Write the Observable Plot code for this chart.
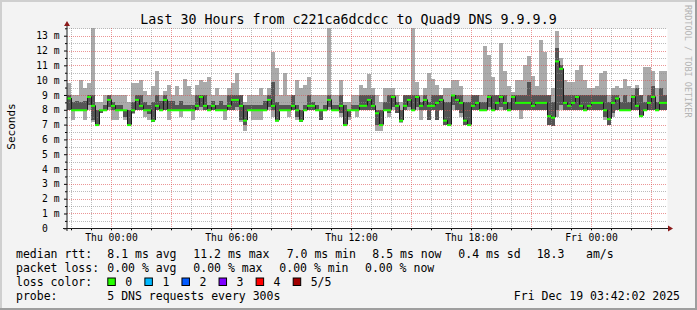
<!DOCTYPE html>
<html><head><meta charset="utf-8">
<script src="https://cdn.jsdelivr.net/npm/d3@7"></script>
<script src="https://cdn.jsdelivr.net/npm/@observablehq/plot@0.6"></script>
<style>
html,body{margin:0;padding:0;background:#f3f3f3;overflow:hidden;}
svg text{white-space:pre;}
</style></head><body><div id="chart"></div>
<script>
// ---- data (12-minute bins, values in ms) ----
const maxV = [9.8,9.0,9.0,10.0,9.5,9.8,13.5,8.5,8.5,9.0,9.0,9.0,9.0,9.0,9.0,8.5,9.8,9.8,10.0,9.3,9.0,9.6,10.6,9.0,9.3,
9.7,9.0,9.6,9.0,10.1,9.6,9.0,9.7,10.0,9.9,10.2,9.0,9.5,9.0,9.0,9.5,9.8,10.5,9.0,8.5,9.0,9.0,9.0,9.5,9.0,9.5,
11.9,10.8,9.0,10.5,9.0,9.0,10.0,9.5,9.7,10.2,9.0,9.0,9.0,9.0,13.5,9.0,9.0,10.0,8.5,8.5,9.0,9.0,9.7,9.5,10.4,
9.5,9.0,8.5,9.5,9.5,9.5,9.0,8.5,9.0,9.0,13.5,9.9,9.0,9.5,10.5,10.1,9.7,9.0,9.5,9.5,10.0,10.0,9.6,9.0,9.0,9.0,
9.0,9.0,12.3,11.7,10.2,9.0,12.5,10.6,9.6,9.2,10.0,10.0,11.0,11.6,10.3,9.6,12.7,11.9,9.0,9.5,13.3,11.5,10.0,9.9,9.9,
10.7,11.0,10.0,9.5,9.5,9.6,10.5,10.6,9.0,9.5,9.6,9.5,10.1,9.6,9.5,9.7,9.0,10.9,10.9,10.6,9.5,10.6,10.6];
const hiV = [9.0,8.5,8.6,8.5,8.6,9.0,9.0,8.0,8.0,8.3,9.0,8.5,8.3,8.3,8.0,8.0,8.5,9.0,9.0,8.5,8.3,8.5,9.0,8.6,9.0,
8.6,8.6,8.3,8.6,8.3,8.3,8.3,9.0,9.0,9.0,8.3,8.6,8.3,8.6,8.3,9.0,9.0,9.0,9.0,8.3,8.3,8.3,8.3,8.3,8.6,9.0,
9.9,8.5,8.3,8.3,8.3,9.0,8.3,8.0,8.3,9.0,8.5,8.3,8.0,8.3,9.0,8.3,8.3,9.0,8.3,8.0,8.3,8.3,9.0,9.0,9.0,
9.0,8.0,8.0,8.5,9.0,9.0,8.5,8.0,9.0,9.0,9.0,9.0,8.5,9.0,8.5,9.0,9.0,9.0,8.5,8.5,9.0,9.0,9.0,8.5,8.5,9.0,
9.0,8.5,8.5,9.0,9.0,9.0,9.0,9.0,8.5,9.0,9.0,9.0,9.0,9.9,9.0,9.0,9.0,9.0,9.0,8.5,12.2,11.0,9.0,9.0,9.0,
9.0,9.0,9.0,9.0,9.0,9.0,9.0,9.0,8.5,9.0,9.0,8.5,9.0,8.5,9.0,9.5,9.0,8.5,9.0,9.6,8.5,9.5,9.0];
const medV = [8.8,8.0,8.0,8.0,8.0,8.9,8.3,7.0,8.0,8.0,8.7,8.3,8.0,8.0,8.0,7.0,8.0,8.7,8.3,8.0,8.0,7.3,8.3,8.0,8.7,
8.0,8.0,8.0,8.0,8.0,8.0,8.0,8.3,8.9,8.3,8.0,8.3,8.0,8.0,8.0,8.3,8.7,8.7,8.3,7.3,8.0,8.0,8.0,8.0,8.0,8.7,
8.3,7.3,8.0,8.0,8.0,8.3,8.0,7.3,8.0,8.3,8.3,8.0,8.0,8.0,8.7,8.0,8.0,8.3,7.0,8.0,8.0,8.0,8.3,8.3,8.7,
8.3,7.8,7.0,8.0,8.0,8.9,8.3,7.3,8.3,8.7,8.0,8.9,8.3,8.7,8.3,8.3,8.5,8.7,7.3,7.0,9.0,8.7,8.5,7.3,7.0,8.3,
8.5,8.0,8.0,8.9,8.0,8.5,8.9,8.5,8.0,8.9,8.5,8.5,8.5,8.5,8.3,8.5,8.5,8.5,7.6,7.5,11.3,10.8,8.5,8.3,8.5,
8.9,8.3,8.0,8.3,8.5,8.5,8.5,8.0,7.4,8.5,8.8,8.0,8.0,8.0,8.9,8.3,7.6,8.0,8.5,8.9,8.0,8.5,8.5];
const loV = [8.0,8.0,8.0,8.0,8.0,8.3,7.3,6.9,7.8,8.0,8.2,8.0,8.0,8.0,7.5,6.9,7.8,8.0,8.0,8.0,7.7,7.2,8.0,8.0,8.0,
8.0,8.0,8.0,8.0,8.0,8.0,8.0,8.0,8.2,8.0,8.0,8.0,8.0,8.0,8.0,8.0,8.0,8.2,7.3,7.0,8.0,8.0,8.0,8.0,8.0,8.2,
8.0,7.3,8.0,8.0,8.0,8.0,7.5,7.2,8.0,8.0,8.0,8.0,7.3,8.0,8.2,8.0,8.0,7.8,6.9,7.5,8.0,8.0,8.0,8.0,8.0,
8.0,7.0,6.9,8.0,7.8,8.2,7.8,7.2,8.0,8.2,8.0,8.2,8.0,8.0,7.3,8.0,7.3,8.0,7.0,6.9,8.3,8.0,7.8,7.0,6.9,8.0,
8.0,8.0,8.0,8.2,8.0,8.0,8.2,8.0,8.0,8.0,8.0,8.0,8.0,8.0,8.0,8.0,8.0,8.0,7.0,6.9,8.0,8.3,8.0,8.0,8.0,
8.0,8.0,8.0,8.0,8.0,8.0,8.0,7.5,7.0,7.8,8.0,8.0,8.0,8.0,8.0,8.0,7.6,8.0,8.0,8.0,8.0,8.0,8.0];
const minV = [8.0,7.3,8.0,8.0,7.3,8.0,7.2,6.9,7.8,8.0,8.0,7.3,7.3,8.0,7.3,6.9,7.7,8.0,8.0,7.5,7.3,7.2,8.0,8.0,8.0,
7.3,8.0,8.0,7.5,8.0,8.0,7.3,8.0,8.0,8.0,8.0,8.0,8.0,8.0,7.3,8.0,8.0,8.0,7.2,6.6,8.0,7.3,7.3,7.3,8.0,8.0,
7.5,7.2,8.0,8.0,7.5,8.0,7.3,7.2,8.0,8.0,8.0,8.0,7.3,8.0,8.0,8.0,8.0,7.5,6.9,7.3,8.0,7.5,8.0,8.0,8.0,
8.0,6.6,6.6,8.0,7.5,8.0,7.8,7.1,8.0,8.0,8.0,8.0,7.3,8.0,7.3,8.0,7.3,8.0,7.0,6.9,8.0,8.0,7.5,7.0,6.9,8.0,
8.0,8.0,8.0,8.0,8.0,8.0,8.0,8.0,8.0,8.0,8.0,7.4,8.0,8.0,8.0,8.0,8.0,8.0,7.0,6.9,7.5,8.0,8.0,8.0,8.0,
8.0,8.0,8.0,8.0,8.0,8.0,8.0,7.3,7.0,7.5,8.0,8.0,8.0,8.0,8.0,8.0,7.5,8.0,8.0,8.0,8.0,8.0,8.0];

const xTickLabels = ["Thu 00:00","Thu 06:00","Thu 12:00","Thu 18:00","Fri 00:00"];
const xTickTimes = [Date.UTC(2025,11,18,0),Date.UTC(2025,11,18,6),Date.UTC(2025,11,18,12),Date.UTC(2025,11,18,18),Date.UTC(2025,11,19,0)];
const yTickValues = [0,1,2,3,4,5,6,7,8,9,10,11,12,13];
const yTickLabels = ["0  ","1 m","2 m","3 m","4 m","5 m","6 m","7 m","8 m","9 m","10 m","11 m","12 m","13 m"];

const titleText = "Last 30 Hours from c221ca6dcdcc to Quad9 DNS 9.9.9.9";
const yLabelText = "Seconds";
const rttLabel = "median rtt:";
const rttStats = ["8.1 ms avg","11.2 ms max","7.0 ms min","8.5 ms now","0.4 ms sd","18.3","am/s"];
const lossLabel = "packet loss:";
const lossStats = ["0.00 % avg","0.00 % max","0.00 % min","0.00 % now"];
const lossColorLabel = "loss color:";
const lossLabels = ["0","1","2","3","4","5/5"];
const lossColors = ["#26ff00","#00b8ff","#0059ff","#7e00ff","#ff0000","#a10000"];
const probeLabel = "probe:";
const probeText = "5 DNS requests every 300s";
const stampText = "Fri Dec 19 03:42:02 2025";
const watermark = "RRDTOOL / TOBI OETIKER";

// ---- build ----
const start = Date.UTC(2025,11,17,21,48);
const binMs = 12*60000;
const end = new Date(start + 30*3600000);
const rows = maxV.map((mx,i)=>({
  t: new Date(start + i*binMs), t2: new Date(start + (i+1)*binMs),
  mx, dh: hiV[i], md: medV[i], dl: loV[i], mn: minV[i], prev: i ? medV[i-1] : medV[i]
}));
const hours = d3.utcHour.range(new Date(start), end);
const majorX = hours.filter(d => d.getUTCHours() % 3 === 0);
const minorX = hours.filter(d => d.getUTCHours() % 3 !== 0);
const majorY = d3.range(1, 14, 1);
const minorY = d3.range(0.5, 13.6, 1);
const xLab = new Map(xTickTimes.map((t,i)=>[t, xTickLabels[i]]));
const yLab = new Map(yTickValues.map((v,i)=>[v, yTickLabels[i]]));

const plot = Plot.plot({
  width: 697, height: 310,
  marginLeft: 67, marginRight: 30, marginTop: 28.3, marginBottom: 81.7,
  x: {type: "utc", domain: [new Date(start), end]},
  y: {domain: [0, 13.5]},
  style: {background: "transparent", fontFamily: "'DejaVu Sans Mono', monospace", fontSize: "9.7px", color: "#000", overflow: "visible"},
  marks: [
    Plot.frame({fill: "#ffffff", stroke: "none"}),
    Plot.rect(rows, {x1: "t", x2: "t2", y1: "mn", y2: "mx", fill: "#aaaaaa", shapeRendering: "crispEdges"}),
    Plot.rect(rows, {x1: "t", x2: "t2", y1: "dl", y2: "dh", fill: "#555555", shapeRendering: "crispEdges"}),
    Plot.ruleX(minorX, {stroke: "#8f8f8f", strokeOpacity: 0.6, strokeDasharray: "1,1", shapeRendering: "crispEdges"}),
    Plot.ruleY(minorY, {stroke: "#8f8f8f", strokeOpacity: 0.6, strokeDasharray: "1,1", shapeRendering: "crispEdges"}),
    Plot.ruleX(majorX, {stroke: "#de5050", strokeOpacity: 0.6, strokeDasharray: "1,1", shapeRendering: "crispEdges"}),
    Plot.ruleY(majorY, {stroke: "#de5050", strokeOpacity: 0.6, strokeDasharray: "1,1", shapeRendering: "crispEdges"}),
    Plot.ruleX(rows.slice(1), {x: "t", y1: "prev", y2: "md", stroke: "#1a1a1a", strokeWidth: 1}),
    Plot.ruleY(rows, {x1: "t", x2: "t2", y: "md", stroke: "#20ff00", strokeWidth: 2}),
    Plot.axisY(yTickValues, {anchor: "left", tickSize: 3, tickPadding: 5, tickFormat: d => yLab.get(d), label: null}),
    Plot.axisY(minorY, {anchor: "left", tickSize: 2, tickFormat: () => "", label: null}),
    Plot.axisX(xTickTimes.map(t => new Date(t)), {anchor: "bottom", tickSize: 0, tickPadding: 5, tickFormat: d => xLab.get(+d), label: null}),
    Plot.axisX(hours, {anchor: "bottom", tickSize: 2, tickFormat: () => "", label: null})
  ]
});
document.getElementById("chart").appendChild(plot);

const svg = d3.select(plot);
const mono = "'DejaVu Sans Mono', monospace";
// borders
svg.insert("rect", ":first-child").attr("x",0).attr("y",0).attr("width",697).attr("height",310).attr("fill","#f3f3f3");
svg.append("rect").attr("x",0).attr("y",0).attr("width",697).attr("height",2).attr("fill","#cfcfcf");
svg.append("rect").attr("x",0).attr("y",0).attr("width",2).attr("height",310).attr("fill","#cfcfcf");
svg.append("rect").attr("x",0).attr("y",308).attr("width",697).attr("height",2).attr("fill","#9e9e9e");
svg.append("rect").attr("x",695).attr("y",0).attr("width",2).attr("height",310).attr("fill","#9e9e9e");
// axis lines and arrows
svg.append("line").attr("x1",67).attr("x2",67).attr("y1",231).attr("y2",25).attr("stroke","#1f1f1f");
svg.append("line").attr("x1",63).attr("x2",669).attr("y1",228.5).attr("y2",228.5).attr("stroke","#1f1f1f");
svg.append("path").attr("d","M67,21 L70,26 L64,26 Z").attr("fill","#8b1a1a");
svg.append("path").attr("d","M673,228.5 L668,225.5 L668,231.5 Z").attr("fill","#8b1a1a");
// title
svg.append("text").attr("x",348.5).attr("y",24).attr("text-anchor","middle")
  .style("font-family",mono).style("font-size","13.3px").attr("fill","#000").text(titleText);
// y label
svg.append("text").attr("transform","translate(15,126.5) rotate(-90)").attr("text-anchor","middle")
  .style("font-family",mono).style("font-size","11px").attr("fill","#000").text(yLabelText);
// watermark
svg.append("text").attr("transform","translate(684.5,5) rotate(90)").attr("text-anchor","start")
  .style("font-family",mono).style("font-size","8.5px").attr("fill","#b4b4b4").text(watermark);
// legend
const leg = (txt, x, y, anchor) => svg.append("text").attr("x",x).attr("y",y).attr("text-anchor",anchor||"start")
  .style("font-family",mono).style("font-size","11.5px").attr("fill","#000").text(txt);
const rttX = [107.3,193.3,286.7,372.3,458.3,536.7,586];
const lossX = [107.3,193.3,279.3,365];
leg(rttLabel, 16, 258);
rttStats.forEach((s,i)=>leg(s, rttX[i], 258));
leg(lossLabel, 16, 272);
lossStats.forEach((s,i)=>leg(s, lossX[i], 272));
leg(lossColorLabel, 16, 286);
lossLabels.forEach((s,i)=>{
  const bx = 107.3 + 37.08*i;
  svg.append("rect").attr("x",bx+0.5).attr("y",278).attr("width",7.5).attr("height",7.5)
    .attr("fill",lossColors[i]).attr("stroke","#000").attr("stroke-width",1);
  leg(s, bx+18, 286);
});
leg(probeLabel, 16, 300);
leg(probeText, 107.3, 300);
leg(stampText, 680, 300, "end");
</script></body></html>
